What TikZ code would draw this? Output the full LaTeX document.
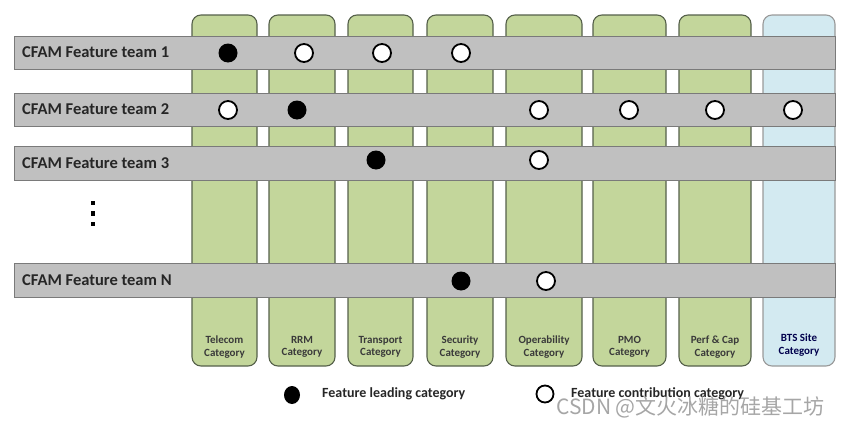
\documentclass[tikz,border=0pt]{standalone}
\usepackage{fontspec}
\usetikzlibrary{shapes.geometric}
\setmainfont{Carlito}
\newfontfamily\cjk{Noto Sans CJK SC}
\definecolor{catgreen}{HTML}{C3D69B}
\definecolor{catblue}{HTML}{D3EAF1}
\definecolor{catedge}{HTML}{55604A}
\definecolor{bargray}{HTML}{C0C0C0}
\definecolor{baredge}{HTML}{7A7A7A}
\definecolor{labeltxt}{HTML}{262626}
\definecolor{cattxt}{HTML}{3A3A3A}
\tikzset{
  catcol/.style={draw=catedge, line width=1.1pt, rounded corners=9pt, fill=catgreen},
  catbtscol/.style={catcol, fill=catblue, draw=gray!80},
  teambar/.style={draw=baredge, line width=0.9pt, fill=bargray},
  teamlabel/.style={anchor=west, font=\fontsize{16.5}{16.5}\selectfont\bfseries, text=labeltxt, inner sep=0pt},
  catlabel/.style={align=center, font=\fontsize{11}{12.5}\selectfont\bfseries, text=cattxt, inner sep=0pt},
  leadmark/.style={circle, fill=black, minimum size=19pt, inner sep=0pt},
  contribmark/.style={circle, draw=black, line width=1.8pt, fill=white, minimum size=18pt, inner sep=0pt},
  vdot/.style={fill=black, minimum size=4.5pt, inner sep=0pt},
  legendtxt/.style={anchor=west, font=\fontsize{14}{14}\selectfont\bfseries, text=labeltxt, inner sep=0pt}
}
\begin{document}
\begin{tikzpicture}[x=1pt, y=-1pt]
\useasboundingbox (0,0) rectangle (849,423);
% category columns
\foreach \n/\l/\r in {c1/192/257, c2/269/335, c3/348/413, c4/427/493, c5/506/582, c6/593/666, c7/679/751}{
  \draw[catcol] (\l,15) rectangle (\r,366);
}
\draw[catbtscol] (763,15) rectangle (835,366);
% category labels
\node[catlabel] (l1) at (224.5,347) {Telecom\\Category};
\node[catlabel] (l2) at (302,347) {RRM\\Category};
\node[catlabel] (l3) at (380.5,347) {Transport\\Category};
\node[catlabel] (l4) at (460,347) {Security\\Category};
\node[catlabel] (l5) at (544,347) {Operability\\Category};
\node[catlabel] (l6) at (629.5,347) {PMO\\Category};
\node[catlabel] (l7) at (715,347) {Perf \& Cap\\Category};
\node[catlabel, text=black!70!blue] (l8) at (799,345) {BTS Site\\Category};
% team bars
\draw[teambar] (14,36) rectangle (835,69);
\draw[teambar] (14,93) rectangle (835,126);
\draw[teambar] (14,146) rectangle (835,180);
\draw[teambar] (14,263) rectangle (835,297);
\node[teamlabel] (t1) at (22,52.5) {CFAM Feature team 1};
\node[teamlabel] (t2) at (22,109.5) {CFAM Feature team 2};
\node[teamlabel] (t3) at (22,163) {CFAM Feature team 3};
\node[teamlabel] (tn) at (22,280) {CFAM Feature team N};
% ellipsis dots
\node[vdot] (d1) at (93,203) {};
\node[vdot] (d2) at (93,213.5) {};
\node[vdot] (d3) at (93,224) {};
% row 1
\node[leadmark] (r1a) at (228,53) {};
\node[contribmark] (r1b) at (304,53) {};
\node[contribmark] (r1c) at (382,53) {};
\node[contribmark] (r1d) at (461,53) {};
% row 2
\node[contribmark] (r2a) at (228,110) {};
\node[leadmark] (r2b) at (297,110) {};
\node[contribmark] (r2c) at (539,110) {};
\node[contribmark] (r2d) at (629,110) {};
\node[contribmark] (r2e) at (715,110) {};
\node[contribmark] (r2f) at (793,110) {};
% row 3
\node[leadmark] (r3a) at (376,160) {};
\node[contribmark] (r3b) at (539,160) {};
% row N
\node[leadmark] (rna) at (461,281) {};
\node[contribmark] (rnb) at (546,281) {};
% legend
\node[ellipse, fill=black, minimum width=16pt, minimum height=18pt, inner sep=0pt] (lg1) at (292,395) {};
\node[legendtxt] (lg1t) at (322,394) {Feature leading category};
\node[contribmark, minimum size=17pt] (lg2) at (545,394) {};
\node[legendtxt] (lg2t) at (571,394) {Feature contribution category};
% watermark
\node[anchor=west, font=\cjk\fontsize{21}{21}\selectfont, text=gray!70, inner sep=0pt] (wm) at (556,407) {CSDN @文火冰糖的硅基工坊};
\end{tikzpicture}
\end{document}
